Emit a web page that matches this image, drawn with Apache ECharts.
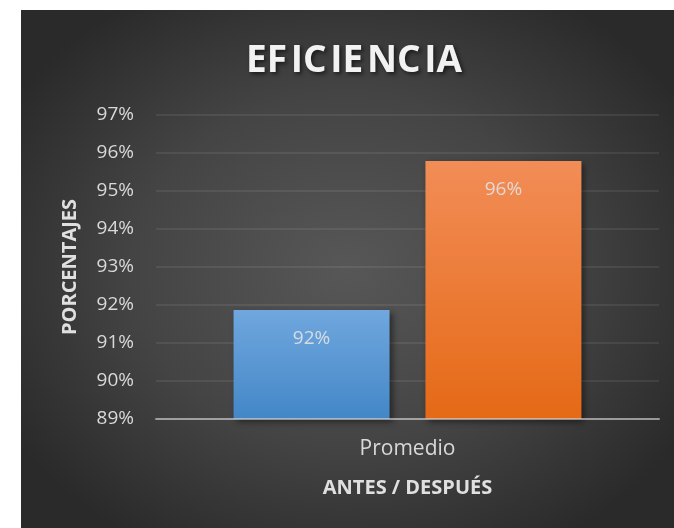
<!DOCTYPE html>
<html>
<head>
<meta charset="utf-8">
<script src="https://cdn.jsdelivr.net/npm/echarts@6/dist/echarts.min.js"></script>
<style>
  html, body { margin: 0; padding: 0; background: #ffffff; }
  #chart {
    position: absolute; left: 21px; top: 10px; width: 653px; height: 518px;
    background: radial-gradient(ellipse 60% 62% at 50% 50%, #575757 0%, #444444 55%, #2a2a2a 100%);
  }
</style>
</head>
<body>
<div id="chart"></div>
<script>
// data
var categories = ['Promedio'];
var seriesNames = ['Antes', 'Después'];
var values = [91.87, 95.79];
var yTicks = [89, 90, 91, 92, 93, 94, 95, 96, 97];

var barColors = [
  ['#70a7de', '#4387c7'],
  ['#f28d57', '#e56916']
];

var chart = echarts.init(document.getElementById('chart'), null, { renderer: 'canvas' });

var series = seriesNames.map(function (name, i) {
  return {
    name: name,
    type: 'bar',
    barWidth: 156,
    barGap: '23%',
    data: [values[i]],
    itemStyle: {
      color: new echarts.graphic.LinearGradient(0, 0, 0, 1, [
        { offset: 0, color: barColors[i][0] },
        { offset: 1, color: barColors[i][1] }
      ]),
      shadowColor: 'rgba(0,0,0,0.45)',
      shadowBlur: 6,
      shadowOffsetX: 3,
      shadowOffsetY: 3
    },
    label: {
      show: true,
      position: 'insideTop',
      distance: 19,
      color: 'rgba(225,225,225,0.9)',
      fontFamily: 'Open Sans',
      fontSize: 19,
      formatter: function (p) { return Math.round(p.value) + '%'; }
    }
  };
});

var option = {
  animation: false,
  title: {
    // a few hair spaces widen the title a little, like the original
    text: 'EF\u200aIC\u200aIE\u200aNC\u200aIA',
    left: 220,
    top: 28,
    textStyle: {
      color: '#f2f2f2',
      fontFamily: 'Open Sans',
      fontWeight: 'bold',
      fontSize: 37,
      textShadowColor: 'rgba(0,0,0,0.6)',
      textShadowBlur: 4,
      textShadowOffsetX: 2,
      textShadowOffsetY: 2
    }
  },
  grid: { left: 135, right: 15, top: 105, bottom: 109 },
  xAxis: {
    type: 'category',
    data: categories,
    z: 5,
    name: 'ANTES / DESPUÉS',
    nameLocation: 'middle',
    nameGap: 59,
    nameTextStyle: { color: '#e0e0e0', fontFamily: 'Open Sans', fontWeight: 'bold', fontSize: 20 },
    axisLine: { lineStyle: { color: 'rgba(215,215,215,0.6)', width: 2 } },
    axisTick: { show: false },
    axisLabel: { color: '#d9d9d9', fontFamily: 'Open Sans', fontSize: 21, margin: 20 }
  },
  yAxis: {
    type: 'value',
    min: yTicks[0],
    max: yTicks[yTicks.length - 1],
    interval: 1,
    name: 'PORCENTAJES',
    nameLocation: 'middle',
    nameGap: 76,
    nameTextStyle: { color: '#e0e0e0', fontFamily: 'Open Sans', fontWeight: 'bold', fontSize: 20 },
    axisLine: { show: false },
    axisTick: { show: false },
    axisLabel: {
      color: '#d9d9d9', fontFamily: 'Open Sans', fontSize: 19, margin: 22,
      formatter: function (v) { return v + '%'; }
    },
    splitLine: { lineStyle: { color: 'rgba(255,255,255,0.1)', width: 1.5 } }
  },
  series: series
};

chart.setOption(option);
</script>
</body>
</html>
